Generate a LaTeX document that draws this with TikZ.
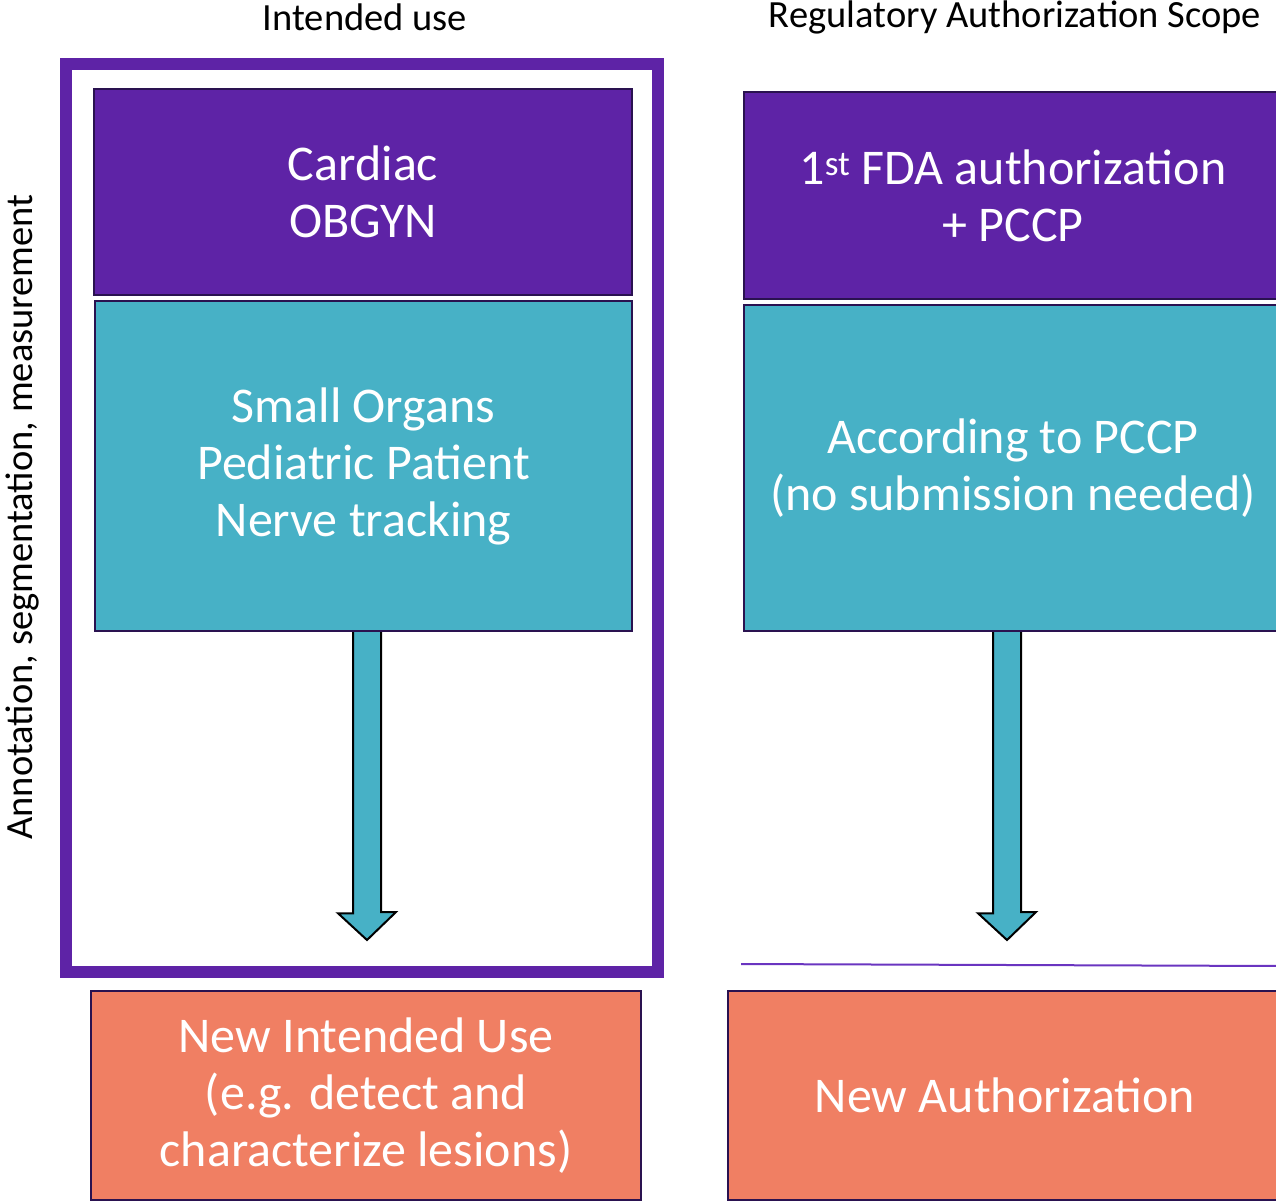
\documentclass[tikz,border=0pt]{standalone}
\usepackage{fontspec}
\setmainfont{Carlito}
\usetikzlibrary{backgrounds}
\definecolor{purp}{HTML}{5E23A6}
\definecolor{teal1}{HTML}{47B1C6}
\definecolor{orng}{HTML}{F07F63}
\definecolor{edge}{HTML}{2A1250}
\definecolor{thinline}{HTML}{6A35C0}
\tikzset{
  boxbase/.style={rectangle, draw=edge, line width=2.5pt, text=white, align=center, inner sep=0pt,
    font=\fontsize{50}{57}\selectfont},
  purplebox/.style={boxbase, fill=purp},
  tealbox/.style={boxbase, fill=teal1},
  orangebox/.style={boxbase, fill=orng},
  frame/.style={rectangle, draw=purp, line width=12pt, inner sep=0pt},
  heading/.style={text=black, font=\fontsize{38.5}{46}\selectfont, inner sep=0pt},
  arrowbody/.style={fill=teal1, draw=black, line width=2pt, line join=miter},
  thin/.style={draw=thinline, line width=2pt}
}
\begin{document}
\begin{tikzpicture}[x=1pt,y=-1pt]
\useasboundingbox (0,0) rectangle (1276,1203);
% headings
\node[heading] (h1) at (365,17) {Intended use};
\node[heading] (h2) at (1015,17) {Regulatory Authorization Scope};
\node[heading, rotate=90] (side) at (22,517) {Annotation, segmentation, measurement};
% frame
\node[frame, minimum width=592pt, minimum height=908pt] (iu) at (362,518) {};
% left column
\node[purplebox, minimum width=538pt, minimum height=206pt] (cardiac) at (363,192) {Cardiac\\OBGYN};
\node[tealbox, minimum width=537pt, minimum height=330pt] (small) at (363.5,466) {Small Organs\\Pediatric Patient\\Nerve tracking};
\node[orangebox, minimum width=550pt, minimum height=209pt] (newuse) at (366,1095.5) {New Intended Use\\(e.g. detect and\\characterize lesions)};
% right column
\node[purplebox, minimum width=538pt, minimum height=207pt] (fda) at (1013,195.5) {1\textsuperscript{st} FDA authorization\\+ PCCP};
\node[tealbox, minimum width=538pt, minimum height=326pt] (pccp) at (1013,468) {According to PCCP\\(no submission needed)};
\node[orangebox, minimum width=554pt, minimum height=209pt] (newauth) at (1005,1095.5) {New Authorization};
% thin line
\coordinate (l1) at (741,964);
\coordinate (l2) at (1282,966);
\draw[thin] (l1) -- (l2);
% arrows
\coordinate (t1) at (367,940);
\coordinate (t2) at (1007,940);
\begin{scope}[on background layer]
\draw[arrowbody] (small.south -| t1) ++(-14,-2) -- ++(0,283) -- ++(-15,0) -- (t1) -- ++(29,-28) -- ++(-15,0) -- ++(0,-283) -- cycle;
\draw[arrowbody] (pccp.south -| t2) ++(-14,-2) -- ++(0,283) -- ++(-15,0) -- (t2) -- ++(29,-28) -- ++(-15,0) -- ++(0,-283) -- cycle;
\end{scope}
\end{tikzpicture}
\end{document}
